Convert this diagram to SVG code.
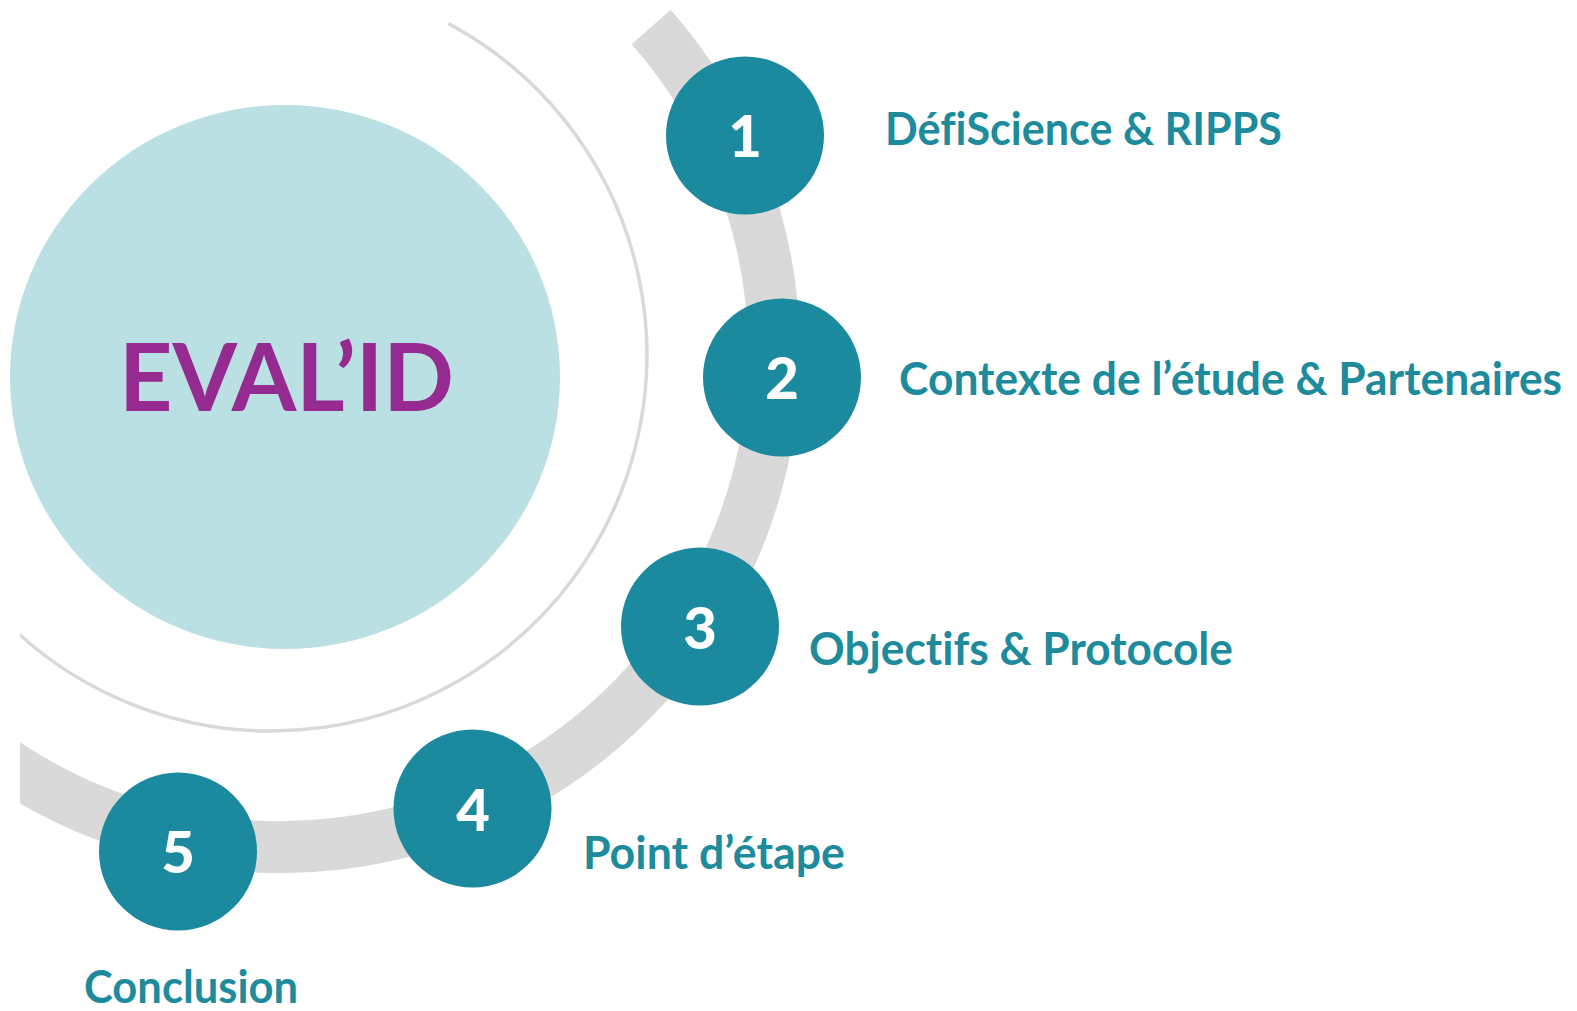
<svg xmlns="http://www.w3.org/2000/svg" width="1577" height="1011" viewBox="0 0 1577 1011">
<style>
.step{fill:#1B8A9E}
.num{font-family:Lato,"Open Sans","Liberation Sans",sans-serif;font-weight:900;font-size:58px;fill:#FFFFFF;text-anchor:middle}
.lbl{font-family:Lato,"Open Sans","Liberation Sans",sans-serif;font-weight:bold;font-size:46px;fill:#1E8B9D;font-variant-ligatures:none}
.band{fill:none;stroke:#D9D9D9;stroke-width:52;stroke-linecap:butt}
.thin{fill:none;stroke:#D9D9D9;stroke-width:3.5}
</style>
<defs>
<clipPath id="clipL"><rect x="20" y="0" width="1557" height="1011"/></clipPath>
</defs>
<rect width="1577" height="1011" fill="#FFFFFF"/>
<g id="center">
<ellipse cx="285" cy="377" rx="275" ry="272" fill="#BAE0E3"/>
<text x="119" y="411" font-family="Lato,'Open Sans','Liberation Sans',sans-serif" font-weight="bold" font-size="94" fill="#952A91" textLength="335" lengthAdjust="spacingAndGlyphs">EVAL’ID</text>
</g>
<g id="connectors" clip-path="url(#clipL)">
<path class="thin" d="M 448.6 23.6 A 376 376 0 1 1 6.1 621.9"/>
<path class="band" d="M 651.2 27 A 494 494 0 0 1 -3.3 757.7"/>
</g>
<g id="step1">
<circle class="step" cx="745" cy="135.5" r="79"/>
<text class="num" x="745" y="157">1</text>
<text class="lbl" x="885" y="145" textLength="397" lengthAdjust="spacingAndGlyphs">DéfiScience &amp; RIPPS</text>
</g>
<g id="step2">
<circle class="step" cx="782" cy="377.5" r="79"/>
<text class="num" x="782" y="399">2</text>
<text class="lbl" x="0" y="0" transform="translate(899 395) scale(0.95 1)" textLength="698" lengthAdjust="spacingAndGlyphs">Contexte de l’étude &amp; Partenaires</text>
</g>
<g id="step3">
<circle class="step" cx="700" cy="626.5" r="79"/>
<text class="num" x="700" y="649">3</text>
<text class="lbl" x="809" y="665" textLength="424" lengthAdjust="spacingAndGlyphs">Objectifs &amp; Protocole</text>
</g>
<g id="step4">
<circle class="step" cx="472.5" cy="808.5" r="79"/>
<text class="num" x="473" y="831">4</text>
<text class="lbl" x="583" y="869" textLength="262" lengthAdjust="spacingAndGlyphs">Point d’étape</text>
</g>
<g id="step5">
<circle class="step" cx="178" cy="851.5" r="79"/>
<text class="num" x="178" y="873">5</text>
<text class="lbl" x="84" y="1003" textLength="214" lengthAdjust="spacingAndGlyphs">Conclusion</text>
</g>
</svg>
